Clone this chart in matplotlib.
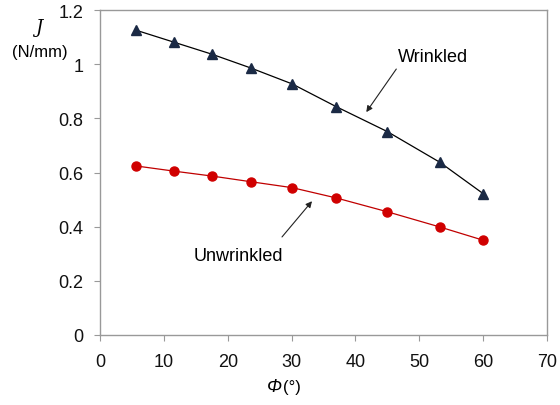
import numpy as np
import matplotlib
matplotlib.use("Agg")
import matplotlib.pyplot as plt

plt.rcParams['font.family'] = ['Liberation Sans', 'DejaVu Sans']

phi_w = [5.7, 11.6, 17.5, 23.6, 30.1, 37.0, 45.0, 53.2, 60.0]
j_w = [1.125, 1.081, 1.037, 0.986, 0.927, 0.843, 0.751, 0.638, 0.522]

phi_u = [5.7, 11.6, 17.5, 23.6, 30.1, 37.0, 45.0, 53.2, 60.0]
j_u = [0.624, 0.605, 0.587, 0.566, 0.544, 0.506, 0.455, 0.399, 0.350]

xticks = [0, 10, 20, 30, 40, 50, 60, 70]
yticks = [0, 0.2, 0.4, 0.6, 0.8, 1.0, 1.2]
ytick_labels = ['0', '0.2', '0.4', '0.6', '0.8', '1', '1.2']

fig = plt.figure(figsize=(5.6, 4.06), dpi=100)
ax = fig.add_axes([100/560, 1 - 336/406, 447/560, 325/406])

ax.plot(phi_w, j_w, color='black', lw=0.9, zorder=2)
ax.plot(phi_w, j_w, ls='none', marker='^', ms=7, color='#1b2a45', zorder=3)
ax.plot(phi_u, j_u, color='#c00000', lw=0.9, zorder=2)
ax.plot(phi_u, j_u, ls='none', marker='o', ms=6.5, color='#d00000', zorder=3)

ax.set_xlim(0, 70)
ax.set_ylim(0, 1.2)
ax.set_xticks(xticks)
ax.set_yticks(yticks)
ax.set_yticklabels(ytick_labels)
for s in ax.spines.values():
    s.set_color('#999999')
    s.set_linewidth(1.0)
ax.tick_params(direction='out', length=4, color='#999999', labelsize=13, labelcolor='#111111')
ax.tick_params(axis='x', pad=9)
ax.tick_params(axis='y', pad=8)

arrow = dict(arrowstyle='-|>', color='#222222', lw=0.8, mutation_scale=9, shrinkA=0, shrinkB=0)
ax.text(52.1, 1.03, 'Wrinkled', ha='center', va='center', fontsize=13)
ax.annotate('', xy=(41.7, 0.823), xytext=(46.4, 0.982), arrowprops=arrow)
ax.text(21.6, 0.295, 'Unwrinkled', ha='center', va='center', fontsize=13)
ax.annotate('', xy=(33.2, 0.494), xytext=(28.5, 0.362), arrowprops=arrow)

fig.text(39/560, 1 - 28/406, 'J', ha='center', va='center', fontsize=13, fontstyle='italic', family='DejaVu Serif')
fig.text(40/560, 1 - 52/406, '(N/mm)', ha='center', va='center', fontsize=12)
fig.text(282/560, 1 - 388/406, 'Φ', ha='right', va='center', fontsize=13, fontstyle='italic')
fig.text(283/560, 1 - 388/406, '(°)', ha='left', va='center', fontsize=12)

fig.savefig('out.png', dpi=100)
